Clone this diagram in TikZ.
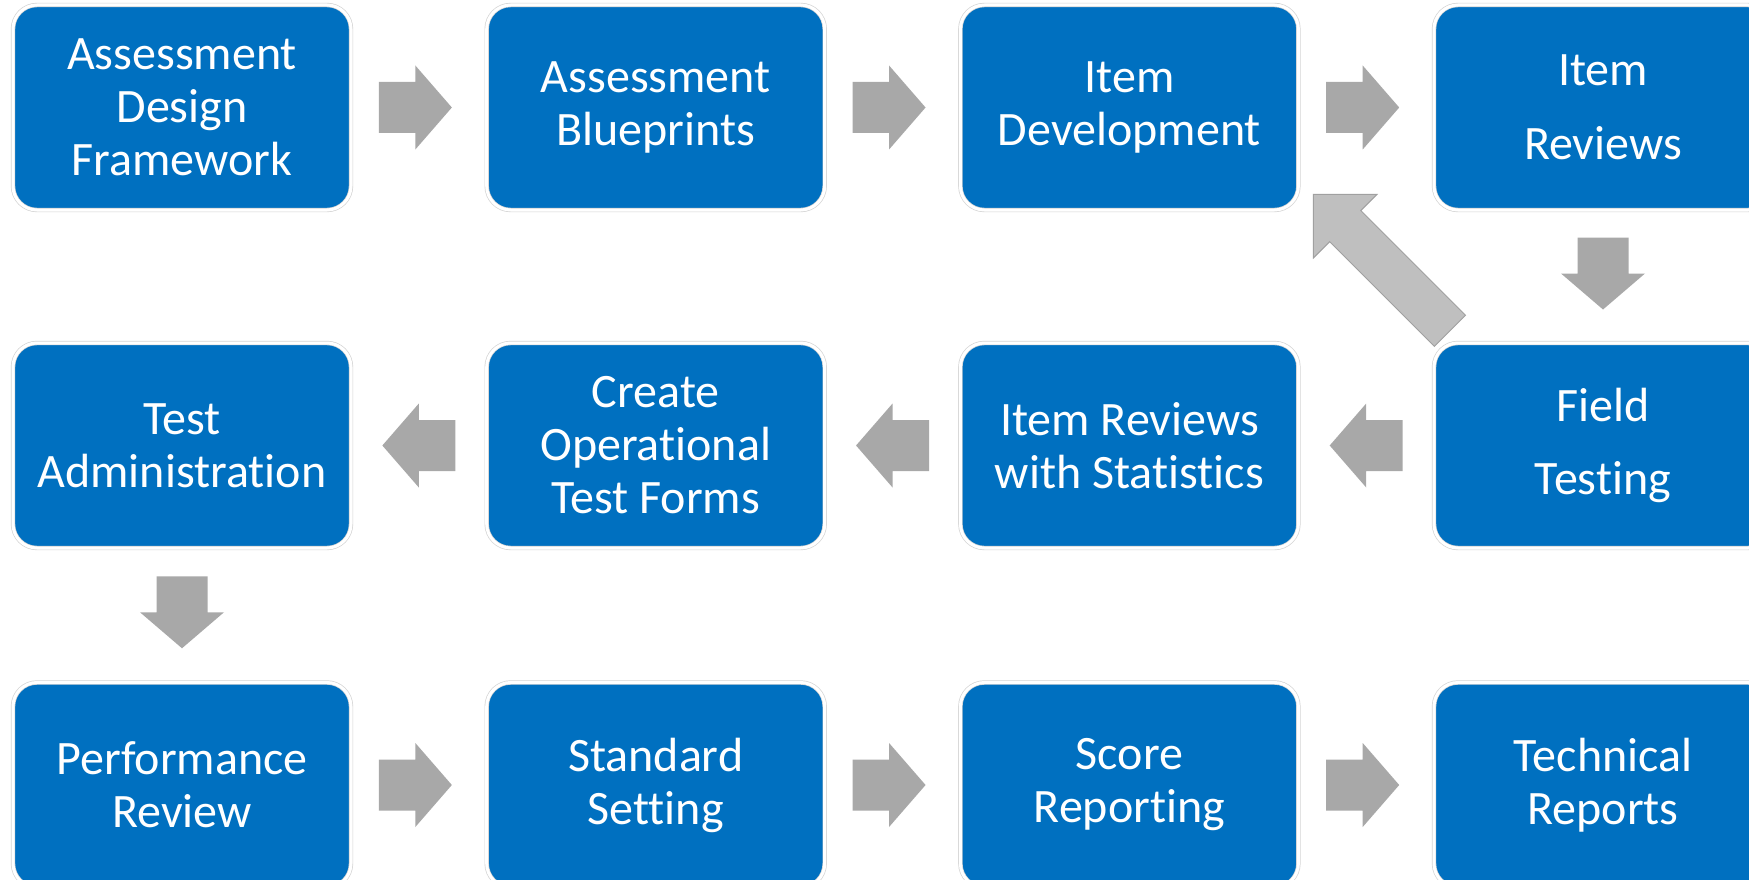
\documentclass[tikz,border=0pt]{standalone}
\usepackage{fontspec}
\setmainfont{Carlito}[Ligatures={NoCommon}]
\usetikzlibrary{calc}
\definecolor{boxblue}{HTML}{0070C0}
\definecolor{arrgray}{HTML}{A8A8A8}
\definecolor{diagfill}{HTML}{BFBFBF}
\definecolor{diagline}{HTML}{A0A0A0}
\definecolor{rimgray}{HTML}{D4D4D4}
\tikzset{
  stage/.style={rectangle, rounded corners=24pt, fill=boxblue, draw=rimgray,
    line width=0.7pt, double=white, double distance=3pt,
    minimum width=338pt, minimum height=205pt, inner sep=0pt,
    align=center, text=white, font=\fontsize{48}{53}\selectfont},
  rarr/.pic={\fill[arrgray] (-36.5,-25.5) -- (0,-25.5) -- (0,-42) -- (36.5,0)
     -- (0,42) -- (0,25.5) -- (-36.5,25.5) -- cycle;},
  larr/.pic={\fill[arrgray] (36.5,-25.5) -- (0,-25.5) -- (0,-42) -- (-36.5,0)
     -- (0,42) -- (0,25.5) -- (36.5,25.5) -- cycle;},
  darr/.pic={\fill[arrgray] (-25.5,-36) -- (25.5,-36) -- (25.5,0) -- (42,0)
     -- (0,36) -- (-42,0) -- (-25.5,0) -- cycle;},
  backarrow/.style={fill=diagfill, draw=diagline, line width=1pt, line join=miter}
}
\begin{document}
\begin{tikzpicture}[x=1pt,y=-1pt]
\useasboundingbox (0,0) rectangle (1749,880);
\fill[white] (0,0) rectangle (1749,880);
\clip (0,0) rectangle (1749,880);

% row 1
\node[stage] (adf) at (182,107.5) {Assessment\\Design\\Framework};
\node[stage] (ab)  at (655.7,107.5) {Assessment\\Blueprints};
\node[stage] (id)  at (1129.4,107.5) {Item\\Development};
\node[stage] (ir)  at (1603,107.5) {Item\\[21pt]Reviews};
% row 2
\node[stage] (ta)  at (182,445.5) {Test\\Administration};
\node[stage] (cot) at (655.7,445.5) {Create\\Operational\\Test Forms};
\node[stage] (irs) at (1129.4,445.5) {Item Reviews\\with Statistics};
\node[stage] (ft)  at (1603,445.5) {Field\\[20pt]Testing};
% row 3
\node[stage] (pr)  at (182,785) {Performance\\Review};
\node[stage] (ss)  at (655.7,785) {Standard\\Setting};
\node[stage] (sr)  at (1129.4,785) {Score\\Reporting};
\node[stage] (tr)  at (1603,785) {Technical\\Reports};

% arrows row 1
\pic at ($(adf.east)!0.5!(ab.west)+(-3.5,0)$) {rarr};
\pic at ($(ab.east)!0.5!(id.west)+(-3.5,0)$) {rarr};
\pic at ($(id.east)!0.5!(ir.west)+(-3.5,0)$) {rarr};
% down to field testing
\pic at ($(ir.south)!0.5!(ft.north)+(0,-3)$) {darr};
% row 2 leftwards
\pic at ($(ft.west)!0.5!(irs.east)$) {larr};
\pic at ($(irs.west)!0.5!(cot.east)$) {larr};
\pic at ($(cot.west)!0.5!(ta.east)$) {larr};
% down to performance review
\pic at ($(ta.south)!0.5!(pr.north)+(0,-3)$) {darr};
% row 3
\pic at ($(pr.east)!0.5!(ss.west)+(-3.5,0)$) {rarr};
\pic at ($(ss.east)!0.5!(sr.west)+(-3.5,0)$) {rarr};
\pic at ($(sr.east)!0.5!(tr.west)+(-3.5,0)$) {rarr};

% feedback arrow from field testing back to item development
\coordinate (fbtip) at ($(id.south east)+(14.6,-16)$);
\draw[backarrow] (fbtip) -- ++(63.6,0) -- ++(-16.2,16.2) -- ++(104.7,104.7)
  -- ++(-31.1,31.1) -- ++(-104.7,-104.7) -- ++(-16.2,16.2) -- cycle;
\end{tikzpicture}
\end{document}
